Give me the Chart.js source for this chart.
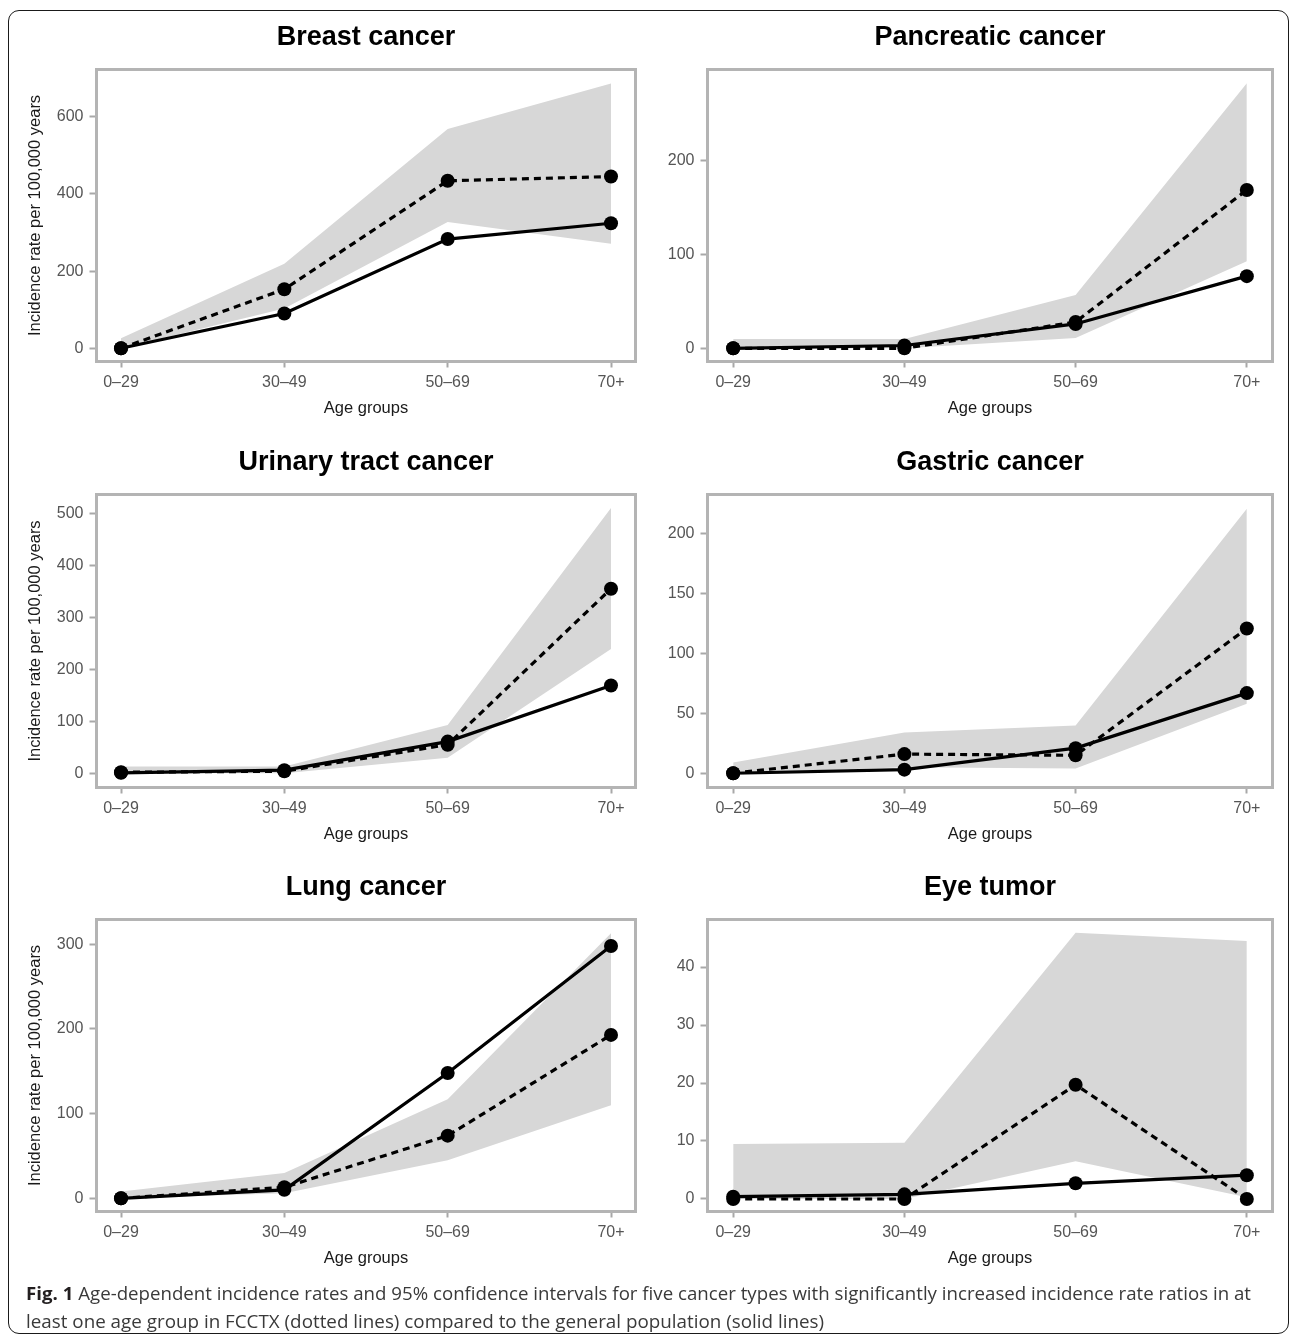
<!DOCTYPE html>
<html>
<head>
<meta charset="utf-8">
<script src="https://cdn.jsdelivr.net/npm/chart.js@4.4.1/dist/chart.umd.min.js"></script>
<style>
  html, body { margin: 0; padding: 0; background: #fff; }
  body { width: 1292px; height: 1337px; position: relative; overflow: hidden; }
  #frame { position: absolute; left: 8px; top: 10px; width: 1279px; height: 1322px;
           border: 1.5px solid #1a1a1a; border-radius: 11px; }
  canvas { position: absolute; }
  #caption { position: absolute; left: 26px; top: 1279px; font-family: 'Open Sans', 'Noto Sans', sans-serif;
             font-size: 18px; line-height: 28px; color: #3a3a3a; white-space: nowrap; }
  #caption .inner { display: inline-block; transform-origin: 0 50%; }
  #caption b { color: #231f20; font-weight: 700; }
</style>
</head>
<body>
<div id="frame"></div>
<canvas id="c0"></canvas><canvas id="c1"></canvas>
<canvas id="c2"></canvas><canvas id="c3"></canvas>
<canvas id="c4"></canvas><canvas id="c5"></canvas>
<div id="caption">
  <div><span class="inner" data-w="1225"><b>Fig. 1</b> Age-dependent incidence rates and 95% confidence intervals for five cancer types with significantly increased incidence rate ratios in at</span></div>
  <div><span class="inner" data-w="798">least one age group in FCCTX (dotted lines) compared to the general population (solid lines)</span></div>
</div>
<script>
// ---------- data ----------
const ageGroups = ['0\u201329', '30\u201349', '50\u201369', '70+'];

const breastFCCTX   = [0, 153, 434, 445];
const breastGeneral = [0, 90, 283, 324];
const breastUpper   = [26, 219, 568, 686];
const breastLower   = [0, 103, 327, 271];
const breastTicks   = [0, 200, 400, 600];

const pancFCCTX   = [0, 0, 28, 169];
const pancGeneral = [0, 3, 26, 77];
const pancUpper   = [10, 10, 57, 283];
const pancLower   = [0, 0, 11, 93];
const pancTicks   = [0, 100, 200];

const urinaryFCCTX   = [2, 4, 55, 355];
const urinaryGeneral = [1, 6, 61, 169];
const urinaryUpper   = [13, 13, 93, 510];
const urinaryLower   = [0, 0, 30, 239];
const urinaryTicks   = [0, 100, 200, 300, 400, 500];

const gastricFCCTX   = [0, 16, 15, 121];
const gastricGeneral = [0, 3, 21, 67];
const gastricUpper   = [9, 34, 40, 221];
const gastricLower   = [0, 5, 4, 58];
const gastricTicks   = [0, 50, 100, 150, 200];

const lungFCCTX   = [0, 13, 74, 193];
const lungGeneral = [0, 10, 148, 298];
const lungUpper   = [8, 30, 117, 313];
const lungLower   = [0, 6, 45, 110];
const lungTicks   = [0, 100, 200, 300];

const eyeFCCTX   = [0, 0, 19.7, 0];
const eyeGeneral = [0.4, 0.8, 2.7, 4.1];
const eyeUpper   = [9.5, 9.7, 45.9, 44.5];
const eyeLower   = [0, 0, 6.5, 0.3];
const eyeTicks   = [0, 10, 20, 30, 40];

const titles = ['Breast cancer', 'Pancreatic cancer', 'Urinary tract cancer', 'Gastric cancer', 'Lung cancer', 'Eye tumor'];
const yTitle = 'Incidence rate per 100,000 years';
const xTitle = 'Age groups';

// ---------- layout (pixel geometry of the page) ----------
const FONT = "'Liberation Sans', Arial, Helvetica, sans-serif";
const cols = [ {cx: 0, cw: 646, L: 96.5, R: 635.5, yTitle: true},
               {cx: 646, cw: 646, L: 707.5, R: 1272.5, yTitle: false} ];
const rows = [ {T: 69.5, B: 361.5}, {T: 494.5, B: 787.5}, {T: 919.5, B: 1211.5} ];

const panels = [
  {fcctx: breastFCCTX,  general: breastGeneral,  upper: breastUpper,  lower: breastLower,  ticks: breastTicks,  min: -34.2, max: 722.3},
  {fcctx: pancFCCTX,    general: pancGeneral,    upper: pancUpper,    lower: pancLower,    ticks: pancTicks,    min: -14.1, max: 297.6},
  {fcctx: urinaryFCCTX, general: urinaryGeneral, upper: urinaryUpper, lower: urinaryLower, ticks: urinaryTicks, min: -27.3, max: 536.2},
  {fcctx: gastricFCCTX, general: gastricGeneral, upper: gastricUpper, lower: gastricLower, ticks: gastricTicks, min: -11.9, max: 233.0},
  {fcctx: lungFCCTX,    general: lungGeneral,    upper: lungUpper,    lower: lungLower,    ticks: lungTicks,    min: -15.6, max: 329.3},
  {fcctx: eyeFCCTX,     general: eyeGeneral,     upper: eyeUpper,     lower: eyeLower,     ticks: eyeTicks,     min: -2.16, max: 48.2}
];

const boxPlugin = {
  id: 'plotBox',
  afterDatasetsDraw(chart) {
    const {ctx, chartArea: a} = chart;
    ctx.save();
    ctx.strokeStyle = '#b4b4b4';
    ctx.lineWidth = 3;
    ctx.strokeRect(a.left, a.top, a.right - a.left, a.bottom - a.top);
    ctx.restore();
  }
};

const pts = arr => arr.map((v, i) => ({x: i, y: v}));

panels.forEach((p, idx) => {
  const col = cols[idx % 2];
  const row = rows[Math.floor(idx / 2)];
  const cy = Math.floor(row.T - 60);
  const ch = Math.ceil(row.B + 70 - cy);
  const xAxisH = cy + ch - row.B;
  const yAxisW = col.L - col.cx;
  const titleSize = 27, titleLH = titleSize * 1.2;
  const titlePadTop = (row.T - 31.5) - titleLH / 2 - cy;
  const titlePadBottom = (row.T - cy) - titlePadTop - titleLH;
  const tickSize = 16, tickLH = tickSize * 1.2;
  const axTitleSize = 16.5, axTitleLH = axTitleSize * 1.2;

  const canvas = document.getElementById('c' + idx);
  canvas.width = col.cw; canvas.height = ch;
  canvas.style.left = col.cx + 'px'; canvas.style.top = cy + 'px';
  canvas.style.width = col.cw + 'px'; canvas.style.height = ch + 'px';

  const lineCommon = {borderColor: '#000', borderWidth: 3.2, pointRadius: 7, pointHoverRadius: 7,
                      pointBackgroundColor: '#000', pointBorderWidth: 0, pointBorderColor: '#000',
                      tension: 0, fill: false};

  new Chart(canvas, {
    type: 'line',
    data: {
      datasets: [
        Object.assign({label: 'FCCTX', data: pts(p.fcctx), borderDash: [7, 5]}, lineCommon),
        Object.assign({label: 'General population', data: pts(p.general)}, lineCommon),
        {label: '95% CI upper', data: pts(p.upper), borderColor: 'rgba(0,0,0,0)', borderWidth: 0,
         pointRadius: 0, backgroundColor: '#d7d7d7', fill: '+1', tension: 0},
        {label: '95% CI lower', data: pts(p.lower), borderColor: 'rgba(0,0,0,0)', borderWidth: 0,
         pointRadius: 0, backgroundColor: '#d7d7d7', fill: false, tension: 0}
      ]
    },
    options: {
      responsive: false,
      animation: false,
      devicePixelRatio: 1,
      events: [],
      layout: {padding: {left: 0, top: 0, bottom: 0, right: col.cx + col.cw - col.R}},
      plugins: {
        legend: {display: false},
        tooltip: {enabled: false},
        title: {display: true, text: titles[idx], color: '#000', fullSize: false,
                font: {family: FONT, size: titleSize, weight: 'bold', lineHeight: 1.2},
                padding: {top: titlePadTop, bottom: titlePadBottom}}
      },
      scales: {
        x: {
          type: 'linear', min: -0.15, max: 3.15,
          afterBuildTicks: axis => { axis.ticks = ageGroups.map((g, i) => ({value: i})); },
          afterFit: scale => { scale.height = xAxisH; },
          border: {display: false},
          grid: {display: true, drawOnChartArea: false, drawTicks: true, tickLength: 6,
                 tickColor: '#a8a8a8', tickWidth: 2},
          ticks: {color: '#555', font: {family: FONT, size: tickSize}, padding: 21 - 6 - tickLH / 2,
                  maxRotation: 0, autoSkip: false, callback: v => ageGroups[v]},
          title: {display: true, text: xTitle, color: '#1a1a1a', font: {family: FONT, size: axTitleSize},
                  padding: {top: 0, bottom: xAxisH - 46.5 - axTitleLH / 2}}
        },
        y: {
          type: 'linear', min: p.min, max: p.max,
          afterBuildTicks: axis => { axis.ticks = p.ticks.map(v => ({value: v})); },
          afterFit: scale => { scale.width = yAxisW; },
          border: {display: false},
          grid: {display: true, drawOnChartArea: false, drawTicks: true, tickLength: 7,
                 tickColor: '#a8a8a8', tickWidth: 2},
          ticks: {color: '#555', font: {family: FONT, size: tickSize}, padding: 6, autoSkip: false,
                  callback: v => String(v)},
          title: {display: col.yTitle, text: yTitle, color: '#1a1a1a', font: {family: FONT, size: axTitleSize},
                  padding: {top: 35 - col.cx - axTitleLH / 2, bottom: 0}}
        }
      }
    },
    plugins: [boxPlugin]
  });
});

// caption: fit each line to the width it has in the figure
function fitCaption() {
  document.querySelectorAll('#caption .inner').forEach(el => {
    el.style.transform = 'none';
    const w = el.getBoundingClientRect().width;
    const target = parseFloat(el.dataset.w);
    el.style.transform = 'scaleX(' + (target / w) + ')';
  });
}
fitCaption();
if (document.fonts && document.fonts.ready) document.fonts.ready.then(fitCaption);
</script>
</body>
</html>
